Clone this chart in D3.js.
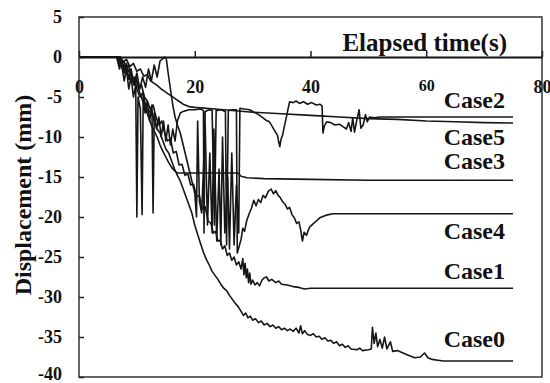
<!DOCTYPE html>
<html>
<head>
<meta charset="utf-8">
<script src="https://cdn.jsdelivr.net/npm/d3@7"></script>
<style>
  body { margin: 0; background: #fff; }
</style>
</head>
<body>
<div id="chart"></div>
<script>
// time (s) and displacement (mm)
var case0 = [[0,0],[6.5,0],[7,-0.5],[7.5,-1.5],[8,-1],[8.5,-2.5],[9,-3],[9.5,-2.5],[10,-4],[10.5,-5],[11,-4.5],[11.5,-6],[12,-7],[12.5,-6.5],[13,-8],[13.5,-9],[14,-9.5],[14.5,-10.5],[15,-11.5],[15.5,-12],[16,-13],[16.5,-14],[17,-14.8],[17.5,-15.5],[18,-16.5],[18.5,-17.5],[19,-18.5],[19.5,-19.5],[20,-21],[20.5,-22.2],[21,-23.3],[21.5,-24.4],[22,-25.3],[22.5,-26],[23,-26.8],[23.5,-27.3],[24,-27.8],[24.5,-28.4],[25,-28.9],[25.5,-29.2],[26,-29.8],[26.5,-30.3],[27,-30.8],[27.5,-31.2],[28,-31.8],[28.4,-32.3],[28.8,-32.0],[29.2,-32.6],[29.6,-32.4],[30,-32.9],[30.5,-32.7],[31,-33.2],[31.5,-33.0],[32,-33.5],[32.5,-33.3],[33,-33.7],[33.5,-33.5],[34,-33.9],[34.5,-33.7],[35,-34.1],[35.5,-33.9],[36,-34.2],[36.5,-34.0],[37,-34.3],[37.5,-33.9],[38,-34.5],[38.3,-33.6],[38.6,-34.6],[39,-34.2],[39.5,-34.7],[40,-34.8],[40.5,-34.6],[41,-35.0],[41.5,-34.9],[42,-35.3],[42.5,-35.1],[43,-35.5],[43.5,-35.4],[44,-35.8],[44.5,-35.6],[45,-36.1],[45.5,-35.9],[46,-36.3],[46.5,-36.1],[47,-36.5],[48,-36.6],[48.5,-36.4],[49,-36.7],[50,-36.6],[50.5,-36.5],[50.7,-33.8],[51,-35.8],[51.3,-34.5],[51.6,-36.2],[52,-35.3],[52.4,-36.4],[52.8,-35.0],[53.2,-36.5],[53.8,-35.6],[54.2,-36.8],[55,-36.7],[56,-37.0],[57,-37.3],[58,-37.6],[59,-37.5],[59.7,-37.0],[60.3,-37.6],[61,-37.8],[62,-37.9],[63,-38.0],[75,-38.0]];

var case1 = [[0,0],[6.8,0],[7.3,-1],[7.8,-0.5],[8.3,-2],[8.8,-1.5],[9.3,-3],[9.8,-2.5],[10.3,-4],[10.8,-3.5],[11.3,-5],[11.8,-5.5],[12.3,-6.5],[12.8,-6],[13.3,-7.5],[13.8,-8.5],[14.3,-8],[14.8,-9.5],[15.3,-10.5],[15.8,-10.2],[16.3,-12],[16.8,-11.8],[17.3,-13.5],[17.8,-13.4],[18.3,-14.8],[18.8,-14.6],[19.3,-16],[19.8,-15.9],[20.3,-17.5],[20.8,-17.3],[21.3,-19],[21.8,-18.7],[22.3,-20.5],[22.8,-20.8],[23.2,-22],[23.6,-21.8],[24,-23],[24.4,-22.9],[24.8,-24],[25.2,-23.6],[25.6,-24.8],[26,-24.5],[26.4,-25.4],[26.8,-25.0],[27.2,-26],[27.6,-25.6],[28,-26.5],[28.3,-25.2],[28.5,-27.2],[28.7,-25.8],[28.9,-27.6],[29.1,-26.5],[29.3,-28.2],[29.5,-27],[29.7,-28.4],[30,-27.9],[30.4,-28.5],[30.8,-28.2],[31.2,-28.6],[31.6,-27.9],[32,-27.6],[32.4,-27.5],[32.8,-28],[33.3,-27.8],[34,-28.2],[34.5,-28.0],[35,-28.4],[36,-28.5],[37,-28.7],[38,-28.8],[39,-29.0],[40,-28.9],[75,-28.9]];

var case2 = [[0,0],[6.6,0],[7,-1],[7.4,-0.3],[7.8,-2],[8.2,-0.8],[8.6,-2.8],[9,-1.5],[9.5,-3.5],[10,-2],[10.5,-4],[11,-2.5],[11.5,-3.8],[12,-1.5],[12.5,-3],[13,-1],[13.5,-2.5],[14,-0.5],[14.5,-0.2],[14.8,0],[15.1,-0.3],[15.4,-2],[15.8,-4],[16.2,-6],[16.6,-7.5],[17,-8.5],[17.5,-9.5],[18,-11],[18.5,-12.5],[19,-14],[19.5,-15.5],[20,-17],[20.3,-20],[20.5,-8],[20.8,-18],[21.2,-19.5],[21.8,-8.5],[22.2,-21],[22.6,-12],[23,-22],[23.3,-9],[23.8,-23],[24.2,-14],[24.5,-23.5],[24.8,-10],[25.2,-22],[25.7,-15],[26,-24],[26.4,-12],[26.8,-23.5],[27.2,-16],[27.6,-22],[27.8,-6.4],[28.5,-6.5],[29.5,-6.6],[30.2,-6.9],[30.8,-7.1],[31.2,-7.3],[31.8,-7.6],[32.3,-7.9],[32.9,-8.1],[33.4,-8.7],[33.8,-9.2],[34.3,-9.8],[34.5,-10.6],[34.7,-11.2],[34.9,-10.3],[35.2,-9.7],[35.5,-8.6],[35.9,-7.3],[36.2,-6.2],[36.4,-5.6],[37,-5.7],[37.5,-5.5],[38.1,-5.8],[38.8,-5.6],[39.5,-5.9],[40.2,-5.7],[41,-6],[41.6,-5.9],[42,-6.1],[42.15,-9.5],[42.4,-8.6],[42.8,-8.1],[43.5,-8.2],[44.2,-8.5],[45,-8.4],[45.6,-8.7],[46.2,-9],[46.6,-8.2],[47,-9.3],[47.3,-7.6],[47.6,-9.4],[48,-7.9],[48.4,-6.6],[48.7,-8.9],[49.1,-8.5],[49.5,-7.2],[49.8,-8.1],[50.2,-7.5],[51,-7.6],[52,-7.5],[75,-7.5]];

var case3 = [[0,0],[7,0],[7.5,-0.8],[8,-1.5],[8.5,-1],[9,-2.5],[9.5,-3.5],[10,-3],[10.5,-4.5],[11,-5.5],[11.5,-6.5],[12,-7.5],[12.5,-8.5],[13,-9.3],[13.5,-10],[14,-11],[14.5,-11.8],[15,-12.5],[15.5,-13.2],[16,-13.8],[16.5,-14.2],[17,-14.5],[20,-14.5],[23,-14.5],[27.5,-14.5],[28,-14.9],[29,-15.1],[32,-15.2],[40,-15.3],[50,-15.4],[75,-15.4]];

var case4 = [[0,0],[6.5,0],[7,-1.5],[7.3,-0.5],[7.8,-3],[8.2,-1.5],[8.6,-4],[9,-2.5],[9.4,-5],[9.8,-3.5],[10,-20],[10.2,-5],[10.6,-6.5],[10.9,-19.7],[11.1,-4.5],[11.4,-7],[11.8,-5.5],[12.2,-8],[12.6,-6],[12.8,-19.5],[13,-7],[13.4,-9],[13.8,-7.5],[14.2,-10],[14.6,-8],[15,-10.5],[15.4,-8.5],[15.8,-11],[16.2,-9],[16.6,-10.5],[17,-8],[17.5,-7],[18,-6.8],[19,-6.6],[20,-6.6],[21,-6.5],[21.5,-6.7],[21.6,-22],[21.8,-6.8],[22.5,-6.6],[23,-6.7],[23.4,-21],[23.7,-6.7],[24.5,-6.6],[25.3,-6.8],[25.5,-23.5],[25.8,-6.7],[26.5,-6.6],[27.2,-6.6],[27.35,-24.5],[27.7,-23.6],[28,-22.8],[28.3,-21.4],[28.6,-21.8],[29,-20.4],[29.4,-19.6],[29.8,-18.9],[30.2,-17.9],[30.6,-18.6],[31,-17.8],[31.4,-18.2],[31.8,-17.3],[32.2,-17.6],[32.7,-16.8],[33.2,-16.5],[33.6,-17.1],[34,-16.7],[34.4,-17.3],[34.8,-17.6],[35.2,-18.1],[35.6,-18.4],[36,-19],[36.4,-18.8],[36.8,-19.7],[37.2,-20.1],[37.6,-20.8],[38,-20.6],[38.3,-21.6],[38.6,-23],[38.9,-21.9],[39.3,-22.3],[39.8,-21.3],[40.4,-20.9],[41,-20.5],[41.6,-20.1],[42.6,-19.8],[43.8,-19.6],[75,-19.6]];

var case5 = [[0,0],[7.2,0],[7.6,-0.6],[8.2,-0.3],[8.8,-1.2],[9.4,-0.8],[10,-1.8],[10.6,-1.5],[11.2,-2.4],[11.8,-2.2],[12.4,-3],[13,-3.3],[13.6,-3.6],[14.2,-4],[14.8,-4.3],[15.4,-4.6],[16,-4.9],[16.6,-5.2],[17.2,-5.5],[18,-5.9],[19,-6.2],[20,-6.3],[25,-6.6],[30,-6.9],[35,-7.1],[40,-7.3],[45,-7.5],[50,-7.7],[55,-7.8],[60,-8.0],[65,-8.1],[70,-8.2],[75,-8.25]];

var caseNames = ["Case0", "Case1", "Case2", "Case3", "Case4", "Case5"];
var xTicks = [0, 20, 40, 60, 80];
var yTicks = [5, 0, -5, -10, -15, -20, -25, -30, -35, -40];

var series = [case0, case1, case2, case3, case4, case5];

// label baseline offset from the last point of each line
var labelDy = [-14, -9, -9, -11, 25, 22];

var serif = "'Liberation Serif', 'Times New Roman', serif";

var width = 550, height = 383;
var svg = d3.select("#chart").append("svg").attr("width", width).attr("height", height);

var x = d3.scaleLinear().domain([0, 80]).range([79, 542]);
var y = d3.scaleLinear().domain([5, -40]).range([17, 377]);

var line = d3.line()
  .x(function (d) { return x(d[0]); })
  .y(function (d) { return y(d[1]); });

// curves
svg.selectAll(".case")
  .data(series)
  .enter()
  .append("path")
  .attr("class", "case")
  .attr("d", line)
  .attr("fill", "none")
  .attr("stroke", "#161616")
  .attr("stroke-width", 1.6)
  .attr("stroke-linejoin", "round");

// frame
svg.append("rect")
  .attr("x", x(0)).attr("y", y(5))
  .attr("width", x(80) - x(0)).attr("height", y(-40) - y(5))
  .attr("fill", "none").attr("stroke", "#333").attr("stroke-width", 1.5);

// y axis, ticks inward
var yAxis = svg.append("g")
  .attr("transform", "translate(" + x(0) + ",0)")
  .call(d3.axisLeft(y).tickValues(yTicks).tickSizeInner(-5).tickSizeOuter(0).tickPadding(17)
    .tickFormat(function (d) { return String(d); }));
yAxis.select(".domain").remove();
yAxis.selectAll("line").attr("stroke", "#222").attr("stroke-width", 1.5);
yAxis.selectAll("text")
  .attr("font-family", serif).attr("font-weight", "bold").attr("font-size", 18).attr("fill", "#111")
  .attr("dy", function (d) { return d === -40 ? "0.12em" : "0.32em"; }); // bottom label sits at the edge

// x axis on the zero line, ticks pointing up, labels below
var xAxis = svg.append("g")
  .attr("transform", "translate(0," + y(0) + ")")
  .call(d3.axisBottom(x).tickValues(xTicks).tickSizeInner(-6).tickSizeOuter(0).tickPadding(23)
    .tickFormat(function (d) { return String(d); }));
xAxis.select(".domain").attr("stroke", "#111").attr("stroke-width", 2);
xAxis.selectAll("line").attr("stroke", "#222").attr("stroke-width", 1.5);
xAxis.selectAll("text")
  .attr("font-family", serif).attr("font-weight", "bold").attr("fill", "#111")
  .attr("font-size", function (d) { return d === 60 ? 16 : 18; });

svg.append("text")
  .attr("x", 507).attr("y", 51)
  .attr("text-anchor", "end")
  .attr("font-family", serif).attr("font-weight", "bold").attr("font-size", 25).attr("fill", "#111")
  .text("Elapsed time(s)");

svg.append("text")
  .attr("transform", "translate(31,195) rotate(-90)")
  .attr("text-anchor", "middle")
  .attr("font-family", serif).attr("font-weight", "bold").attr("font-size", 24).attr("fill", "#111")
  .text("Displacement (mm)");

// case labels at the right end of each line
svg.selectAll(".case-label")
  .data(series)
  .enter()
  .append("text")
  .attr("class", "case-label")
  .attr("x", 505)
  .attr("y", function (d, i) { return y(d[d.length - 1][1]) + labelDy[i]; })
  .attr("text-anchor", "end")
  .attr("font-family", serif).attr("font-weight", "bold").attr("font-size", 24).attr("fill", "#111")
  .text(function (d, i) { return caseNames[i]; });
</script>
</body>
</html>
